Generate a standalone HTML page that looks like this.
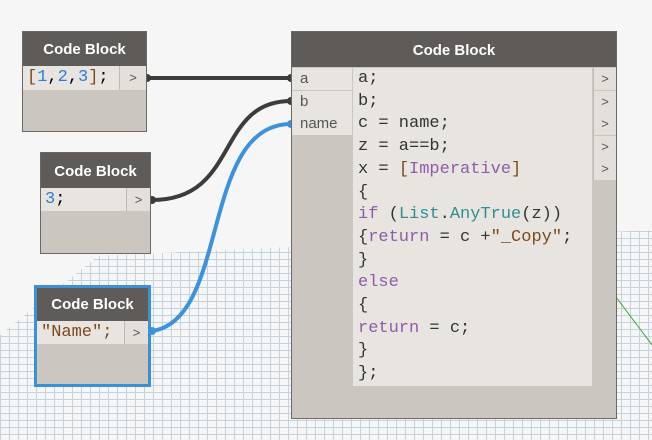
<!DOCTYPE html>
<html><head><meta charset="utf-8"><style>
*{margin:0;padding:0;box-sizing:border-box}
body{width:652px;height:440px;overflow:hidden;background:#f6f6f6;position:relative;font-family:"Liberation Sans",sans-serif}
.node{position:absolute;background:#cbc7c0;border:1px solid #6b6966}
.hdr{position:absolute;left:0;right:0;top:0;background:#5e5b58;color:#fff;font-weight:bold;font-size:15px;text-align:center}
.row{position:absolute;background:#e8e5e1}
.mono{font-family:"Liberation Mono",monospace;font-size:17px}
.out{position:absolute;background:#e3e0db;border-left:1px solid #bdb9b3;color:#555;font-size:13px;text-align:center}
.blue{color:#2a7fd8}.br{color:#7a4a1e}.pu{color:#8f5ca8}.te{color:#2f8f8f}
</style></head><body>
<svg width="652" height="440" style="position:absolute;left:0;top:0">
<defs><pattern id="g" width="9" height="7" patternUnits="userSpaceOnUse">
<path d="M0 0.5H9M0.5 0V7" stroke="#c2d3de" stroke-width="1" fill="none"/></pattern></defs>
<polygon points="0,335 98,256 290,247 652,230 652,440 0,440" fill="url(#g)"/>
<line x1="616" y1="297" x2="652" y2="345" stroke="#3aa33a" stroke-width="1"/>
<path d="M147 78 L291 78" stroke="#3e3c3a" stroke-width="4" fill="none"/>
<path d="M152 200 C240 200 215 101 291 101" stroke="#3e3c3a" stroke-width="4" fill="none"/>
<path d="M152 331 C230 320 200 124 291 124" stroke="#3d92db" stroke-width="4" fill="none"/>
<circle cx="147" cy="78" r="4" fill="#3e3c3a"/><circle cx="291" cy="78" r="4" fill="#3e3c3a"/>
<circle cx="152" cy="200" r="4" fill="#3e3c3a"/><circle cx="291" cy="101" r="4" fill="#3e3c3a"/>
<circle cx="152" cy="331" r="4" fill="#3d92db"/><circle cx="291" cy="124" r="4" fill="#3d92db"/>
</svg>

<div class="node" style="left:22px;top:31px;width:125px;height:101px">
<div class="hdr" style="height:34px;line-height:36px">Code Block</div>
<div class="row mono" style="left:0;top:34px;width:96px;height:24px;line-height:24px;padding-left:4px"><span class="br">[</span><span class="blue">1</span>,<span class="blue">2</span>,<span class="blue">3</span><span class="br">]</span>;</div>
<div class="out" style="left:96px;top:34px;width:27px;height:24px;line-height:24px">&gt;</div>
</div>

<div class="node" style="left:40px;top:152px;width:111px;height:102px">
<div class="hdr" style="height:35px;line-height:38px">Code Block</div>
<div class="row mono" style="left:0;top:35px;width:85px;height:23px;line-height:23px;padding-left:4px"><span class="blue">3</span>;</div>
<div class="out" style="left:85px;top:35px;width:24px;height:23px;line-height:23px">&gt;</div>
</div>

<div class="node" style="left:34px;top:285px;width:117px;height:102px;border:3px solid #3d8fd6">
<div class="hdr" style="height:33px;line-height:34px">Code Block</div>
<div class="row mono br" style="left:0;top:33px;width:87px;height:23px;line-height:23px;padding-left:4px">"Name";</div>
<div class="out" style="left:87px;top:33px;width:24px;height:23px;line-height:23px">&gt;</div>
</div>

<div class="node" style="left:291px;top:31px;width:326px;height:388px">
<div class="hdr" style="height:35px;line-height:38px">Code Block</div>
<div class="row" style="left:0;top:36px;width:60px;height:22px;line-height:22px;padding-left:8px;font-size:15px;color:#555">a</div>
<div class="row" style="left:0;top:59px;width:60px;height:22px;line-height:22px;padding-left:8px;font-size:15px;color:#555">b</div>
<div class="row" style="left:0;top:81px;width:60px;height:22px;line-height:22px;padding-left:8px;font-size:15px;color:#555">name</div>
<div class="row mono" style="left:61px;top:36px;width:239px;height:318px;line-height:22.7px;padding-left:5px;color:#333;white-space:pre">a;
b;
c = name;
z = a==b;
x = <span class="br">[</span><span class="pu">Imperative</span><span class="br">]</span>
{
<span class="pu">if</span> (<span class="te">List</span>.<span class="te">AnyTrue</span>(z))
{<span class="pu">return</span> = c +<span class="br">"_Copy"</span>;
}
<span class="pu">else</span>
{
<span class="pu">return</span> = c;
}
};</div>
<div class="out" style="left:301px;top:36px;width:23px;height:22px;line-height:22px">&gt;</div>
<div class="out" style="left:301px;top:59px;width:23px;height:22px;line-height:22px">&gt;</div>
<div class="out" style="left:301px;top:81px;width:23px;height:22px;line-height:22px">&gt;</div>
<div class="out" style="left:301px;top:104px;width:23px;height:22px;line-height:22px">&gt;</div>
<div class="out" style="left:301px;top:126px;width:23px;height:22px;line-height:22px">&gt;</div>
</div>
</body></html>
